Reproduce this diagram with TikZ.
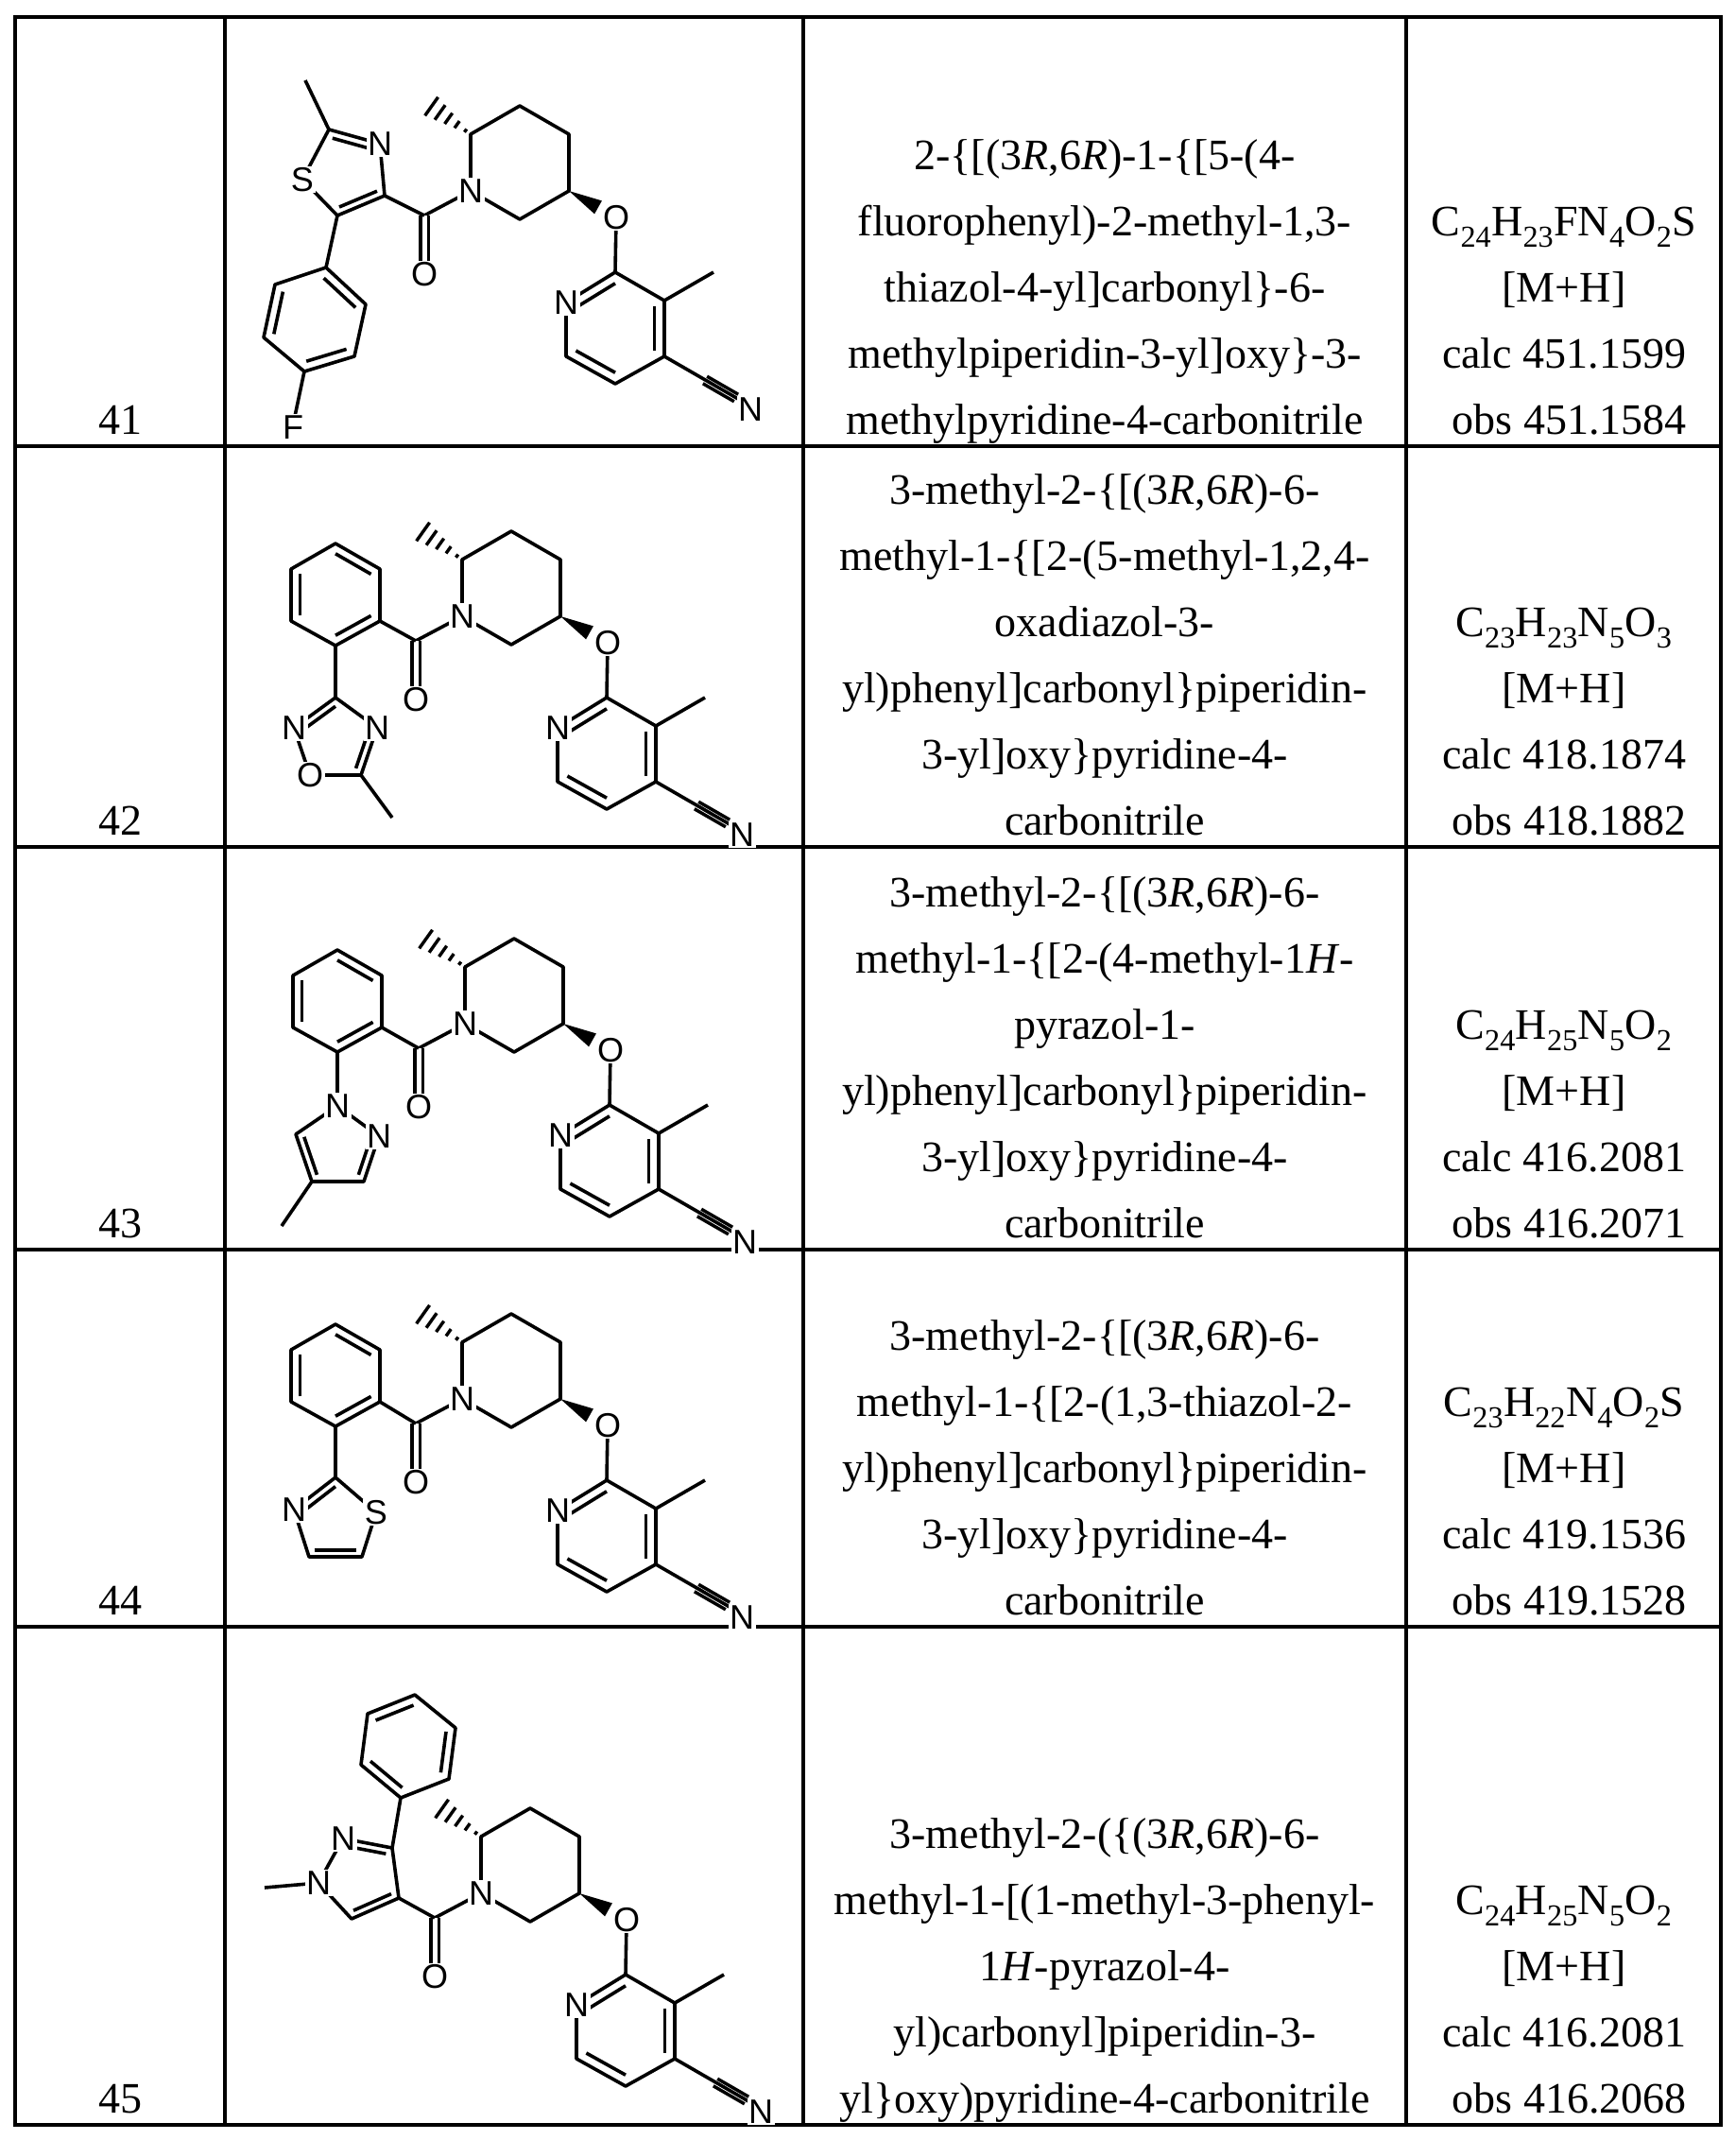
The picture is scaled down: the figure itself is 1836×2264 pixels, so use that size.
\documentclass[tikz,border=0pt]{standalone}
\usepackage{fontspec}
\setmainfont{Liberation Serif}
\newfontfamily\chemfont{Liberation Sans}
\usetikzlibrary{calc}
\tikzset{
  bond/.style={line width=3.6pt, line join=round},
  frame/.style={line width=4pt},
  lbl/.style={font=\chemfont\fontsize{36}{36}\selectfont, fill=white, inner sep=1.5pt},
  txt/.style={font=\fontsize{46}{46}\selectfont, anchor=base, inner sep=0pt}
}
\newcommand\dbin[3]{\draw[bond] ($(#1)!0.2!(#3)$) -- ($(#2)!0.2!(#3)$);}
\newcommand\hashb[2]{\foreach \t/\w in {0.12/2,0.32/4.5,0.52/7,0.72/9.5,0.92/12}{%
  \path ($(#1)!\t!(#2)$) coordinate (hh);
  \draw[line width=3.4pt] ($(hh)!\w pt!90:(#2)$) -- ($(hh)!\w pt!-90:(#2)$);}}
\newcommand\wedgeb[2]{\fill ($(#1)$) -- ($(#1)!0.62!(#2)!8pt!90:(#2)$) -- ($(#1)!0.62!(#2)!8pt!-90:(#2)$) -- cycle;}
\newcommand\core[1]{%
  \coordinate (cc) at (-49,26);
  \draw[bond] (0,0) -- (0,-60) -- (52,-90) -- (104,-60) -- (104,0) -- (52,30) -- cycle;
  \hashb{0,-60}{-45,-92}
  \wedgeb{104,0}{154,28}
  \draw[bond] (154,28) -- (153,86);
  \draw[bond] (153,86) -- (205,116) -- (205,175) -- (153,204) -- (101,175) -- (101,118) -- cycle;
  \dbin{101,118}{153,86}{153,145}
  \dbin{205,116}{205,175}{153,145}
  \dbin{153,204}{101,175}{153,145}
  \draw[bond] (205,116) -- (257,86);
  \draw[bond, double distance=5pt] (248,200) -- (281,219);
  \draw[bond] (205,175) -- (283,220);
  \draw[bond] (0,0) -- (cc);
  \draw[bond, double distance=5pt] (cc) -- (-49,80);
  \node[lbl] (#1pn) at (0,0) {N};
  \node[lbl] (#1eo) at (154,28) {O};
  \node[lbl] (#1co) at (-49,88) {O};
  \node[lbl] (#1yn) at (101,118) {N};
  \node[lbl] (#1cn) at (296,231) {N};
}
\newcommand\benz{%
  \draw[bond] (0,0) -- (-47,26) -- (-94,0) -- (-94,-55) -- (-47,-82) -- (0,-55) -- cycle;
  \dbin{0,0}{-47,26}{-47,-28}
  \dbin{-94,0}{-94,-55}{-47,-28}
  \dbin{-47,-82}{0,-55}{-47,-28}
}
\newcommand\cellL[3]{\foreach \t [count=\i from 0] in {#3}{\node[txt] at (#1,{#2-70*\i}) {\t};}}
\begin{document}
\begin{tikzpicture}[x=1pt,y=-1pt]
\useasboundingbox (0,0) rectangle (1836,2264);
\fill[white] (0,0) rectangle (1836,2264);
% table
\draw[frame] (16,18) rectangle (1821,2248);
\foreach \xx in {238,850,1488} \draw[frame] (\xx,18) -- (\xx,2248);
\foreach \yy in {472,896,1322,1721} \draw[frame] (16,\yy) -- (1821,\yy);

% ---------- row 41
\begin{scope}[shift={(498,202)}]\core{a}\end{scope}
\draw[bond] (cc) -- (407,207);
\draw[bond] (407,207) -- (357,228) -- (320,190) -- (348,137) -- (402,152) -- cycle;
\dbin{348,137}{402,152}{367,183}
\dbin{407,207}{357,228}{367,183}
\draw[bond] (348,137) -- (323,85);
\draw[bond] (357,228) -- (345,283);
\draw[bond] (345,283) -- (387,322) -- (375,377) -- (322,393) -- (279,357) -- (291,301) -- cycle;
\dbin{345,283}{387,322}{333,339}
\dbin{279,357}{291,301}{333,339}
\dbin{322,393}{375,377}{333,339}
\draw[bond] (322,393) -- (310,450);
\node[lbl] (aS) at (320,190) {S};
\node[lbl] (aN) at (402,152) {N};
\node[lbl] (aF) at (310,452) {F};

% ---------- row 42
\begin{scope}[shift={(489,652)}]\core{b}\end{scope}
\draw[bond] (cc) -- (402,657);
\begin{scope}[shift={(402,657)}]\benz\end{scope}
\draw[bond] (355,683) -- (355,738);
\draw[bond] (355,738) -- (399,770) -- (382,820) -- (328,820) -- (311,770) -- cycle;
\dbin{355,738}{311,770}{355,784}
\dbin{382,820}{399,770}{355,784}
\draw[bond] (382,820) -- (415,865);
\node[lbl] (bN4) at (399,770) {N};
\node[lbl] (bO) at (328,820) {O};
\node[lbl] (bN2) at (311,770) {N};

% ---------- row 43
\begin{scope}[shift={(492,1083)}]\core{c}\end{scope}
\draw[bond] (cc) -- (404,1087);
\begin{scope}[shift={(404,1087)}]\benz\end{scope}
\draw[bond] (357,1113) -- (357,1170);
\draw[bond] (357,1170) -- (401,1202) -- (385,1250) -- (330,1250) -- (313,1200) -- cycle;
\dbin{313,1200}{330,1250}{357,1214}
\dbin{401,1202}{385,1250}{357,1214}
\draw[bond] (330,1250) -- (298,1297);
\node[lbl] (cN1) at (357,1170) {N};
\node[lbl] (cN2) at (401,1202) {N};

% ---------- row 44
\begin{scope}[shift={(489,1480)}]\core{d}\end{scope}
\draw[bond] (cc) -- (402,1483);
\begin{scope}[shift={(402,1483)}]\benz\end{scope}
\draw[bond] (355,1510) -- (355,1563);
\draw[bond] (355,1563) -- (398,1600) -- (383,1647) -- (327,1647) -- (311,1597) -- cycle;
\dbin{355,1563}{311,1597}{355,1611}
\dbin{327,1647}{383,1647}{355,1611}
\node[lbl] (dS) at (398,1600) {S};
\node[lbl] (dN) at (311,1597) {N};

% ---------- row 45
\begin{scope}[shift={(509,2003)}]\core{e}\end{scope}
\draw[bond] (cc) -- (422,2008);
\draw[bond] (422,2008) -- (415,1955) -- (363,1945) -- (337,1992) -- (372,2030) -- cycle;
\dbin{415,1955}{363,1945}{382,1986}
\dbin{422,2008}{372,2030}{382,1986}
\draw[bond] (337,1992) -- (280,1997);
\draw[bond] (415,1955) -- (424,1902);
\draw[bond] (424,1902) -- (475,1882) -- (482,1828) -- (439,1793) -- (389,1813) -- (382,1867) -- cycle;
\dbin{382,1867}{424,1902}{432,1848}
\dbin{439,1793}{389,1813}{432,1848}
\dbin{475,1882}{482,1828}{432,1848}
\node[lbl] (eN2) at (363,1945) {N};
\node[lbl] (eN1) at (337,1992) {N};

% ---------- numbers
\node[txt] (n41) at (127,459) {41};
\node[txt] (n42) at (127,883) {42};
\node[txt] (n43) at (127,1309) {43};
\node[txt] (n44) at (127,1708) {44};
\node[txt] (n45) at (127,2235) {45};

% ---------- names
\cellL{1169}{459}{{methylpyridine-4-carbonitrile},{methylpiperidin-3-yl]oxy\}-3-},{thiazol-4-yl]carbonyl\}-6-},{fluorophenyl)-2-methyl-1,3-},{2-\{[(3\textit{R},6\textit{R})-1-\{[5-(4-}}
\cellL{1169}{883}{{carbonitrile},{3-yl]oxy\}pyridine-4-},{yl)phenyl]carbonyl\}piperidin-},{oxadiazol-3-},{methyl-1-\{[2-(5-methyl-1,2,4-},{3-methyl-2-\{[(3\textit{R},6\textit{R})-6-}}
\cellL{1169}{1309}{{carbonitrile},{3-yl]oxy\}pyridine-4-},{yl)phenyl]carbonyl\}piperidin-},{pyrazol-1-},{methyl-1-\{[2-(4-methyl-1\textit{H}-},{3-methyl-2-\{[(3\textit{R},6\textit{R})-6-}}
\cellL{1169}{1708}{{carbonitrile},{3-yl]oxy\}pyridine-4-},{yl)phenyl]carbonyl\}piperidin-},{methyl-1-\{[2-(1,3-thiazol-2-},{3-methyl-2-\{[(3\textit{R},6\textit{R})-6-}}
\cellL{1169}{2235}{{yl\}oxy)pyridine-4-carbonitrile},{yl)carbonyl]piperidin-3-},{1\textit{H}-pyrazol-4-},{methyl-1-[(1-methyl-3-phenyl-},{3-methyl-2-(\{(3\textit{R},6\textit{R})-6-}}

% ---------- formulas
\cellL{1655}{459}{{\ obs 451.1584},{calc 451.1599},{[M+H]},{C\textsubscript{24}H\textsubscript{23}FN\textsubscript{4}O\textsubscript{2}S}}
\cellL{1655}{883}{{\ obs 418.1882},{calc 418.1874},{[M+H]},{C\textsubscript{23}H\textsubscript{23}N\textsubscript{5}O\textsubscript{3}}}
\cellL{1655}{1309}{{\ obs 416.2071},{calc 416.2081},{[M+H]},{C\textsubscript{24}H\textsubscript{25}N\textsubscript{5}O\textsubscript{2}}}
\cellL{1655}{1708}{{\ obs 419.1528},{calc 419.1536},{[M+H]},{C\textsubscript{23}H\textsubscript{22}N\textsubscript{4}O\textsubscript{2}S}}
\cellL{1655}{2235}{{\ obs 416.2068},{calc 416.2081},{[M+H]},{C\textsubscript{24}H\textsubscript{25}N\textsubscript{5}O\textsubscript{2}}}
\end{tikzpicture}
\end{document}
